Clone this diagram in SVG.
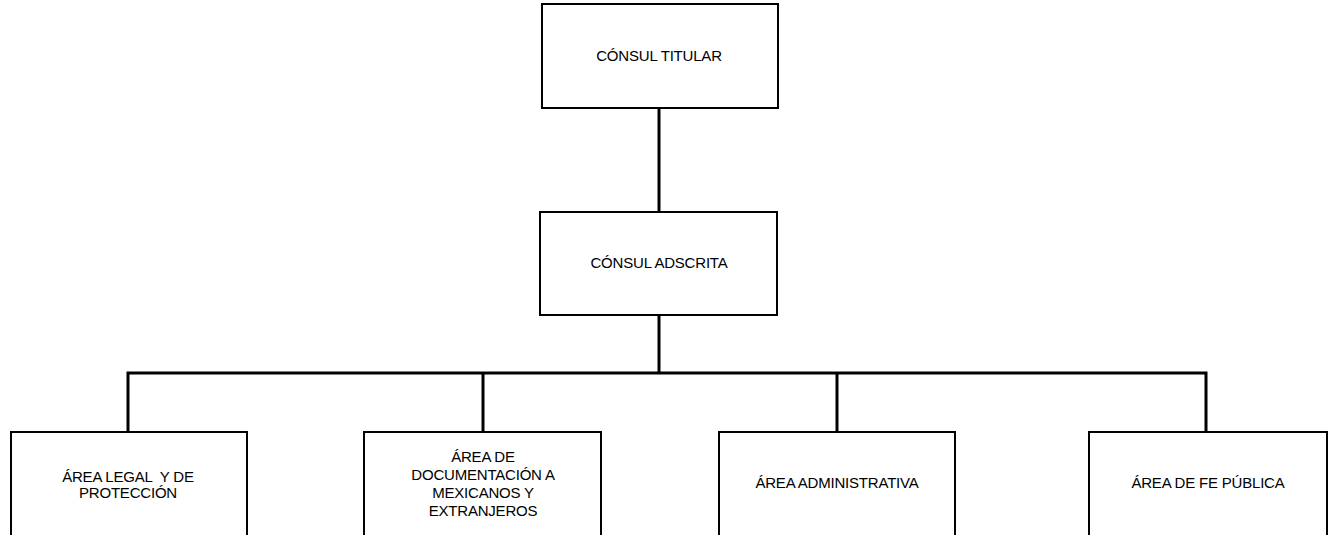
<svg xmlns="http://www.w3.org/2000/svg" width="1330" height="535" viewBox="0 0 1330 535">
<style>
.box{fill:#fff;stroke:#000;stroke-width:2}
.lbl{font-family:"Liberation Sans",Arial,sans-serif;font-size:15px;fill:#000;text-anchor:middle;letter-spacing:-0.2px}
.con{stroke:#000;stroke-width:3;fill:none}
</style>
<rect width="1330" height="535" fill="#fff"/>
<g id="connectors">
<line class="con" x1="659" y1="108" x2="659" y2="212"/>
<line class="con" x1="659" y1="315" x2="659" y2="373"/>
<polyline class="con" points="128,432 128,373 1206,373 1206,432"/>
<line class="con" x1="483" y1="373" x2="483" y2="432"/>
<line class="con" x1="837" y1="373" x2="837" y2="432"/>
</g>
<g id="consul-titular">
<rect class="box" x="542" y="4" width="236" height="104"/>
<text class="lbl" x="659" y="61">CÓNSUL TITULAR</text>
</g>
<g id="consul-adscrita">
<rect class="box" x="540" y="212" width="237" height="103"/>
<text class="lbl" x="659" y="268">CÓNSUL ADSCRITA</text>
</g>
<g id="area-legal">
<rect class="box" x="11" y="432" width="236" height="120"/>
<text class="lbl" x="128" y="482" xml:space="preserve">ÁREA LEGAL  Y DE</text>
<text class="lbl" x="128" y="498">PROTECCIÓN</text>
</g>
<g id="area-documentacion">
<rect class="box" x="364" y="432" width="237" height="120"/>
<text class="lbl" x="483" y="462">ÁREA DE</text>
<text class="lbl" x="483" y="480">DOCUMENTACIÓN A</text>
<text class="lbl" x="483" y="498">MEXICANOS Y</text>
<text class="lbl" x="483" y="516">EXTRANJEROS</text>
</g>
<g id="area-administrativa">
<rect class="box" x="719" y="432" width="236" height="120"/>
<text class="lbl" x="837" y="488">ÁREA ADMINISTRATIVA</text>
</g>
<g id="area-fe-publica">
<rect class="box" x="1089" y="432" width="238" height="120"/>
<text class="lbl" x="1208" y="488">ÁREA DE FE PÚBLICA</text>
</g>
</svg>
